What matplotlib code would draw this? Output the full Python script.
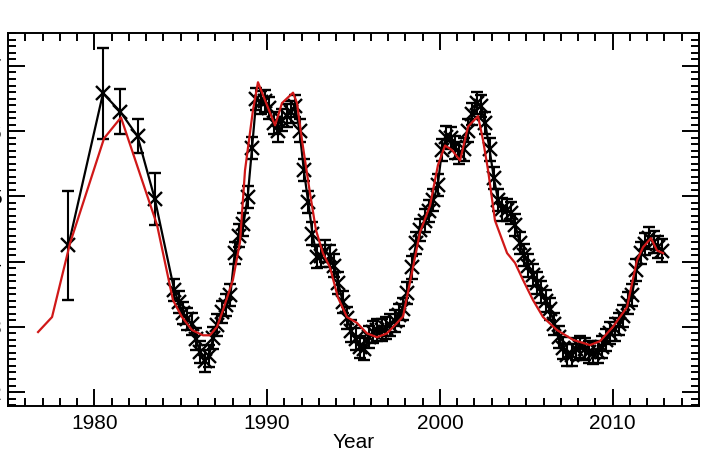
import numpy as np
import matplotlib
matplotlib.use('Agg')
import matplotlib.pyplot as plt
from matplotlib.ticker import MultipleLocator

plt.rcParams['font.family'] = ['Liberation Sans', 'DejaVu Sans']

# Early, sparse measurements (yearly)
early_year = [1978.5, 1980.5, 1981.5, 1982.5, 1983.5]
early_val = [4.25, 6.58, 6.30, 5.92, 4.96]
early_err = [0.84, 0.70, 0.35, 0.26, 0.40]

# Dense measurements, quarterly from 1984.625
dense_start = 1984.625
dense_val = [
    3.56, 3.38, 3.21, 3.12, 3.04, 2.81, 2.61, 2.47, 2.55, 2.83,
    3.03, 3.23, 3.33, 3.49, 4.13, 4.40, 4.57, 4.99, 5.74, 6.49,
    6.44, 6.46, 6.36, 6.13, 6.00, 6.17, 6.24, 6.29, 6.38, 6.01,
    5.40, 4.92, 4.43, 4.07, 4.08, 4.16, 4.08, 3.94, 3.67, 3.38,
    3.13, 2.93, 2.81, 2.69, 2.66, 2.84, 2.92, 2.95, 2.95, 2.98,
    3.03, 3.09, 3.18, 3.27, 3.52, 3.91, 4.28, 4.48, 4.63, 4.77,
    4.94, 5.17, 5.71, 5.91, 5.89, 5.75, 5.66, 5.72, 6.01, 6.26,
    6.43, 6.38, 6.12, 5.72, 5.28, 4.94, 4.80, 4.79, 4.74, 4.56,
    4.28, 4.10, 3.94, 3.79, 3.67, 3.53, 3.39, 3.27, 3.04, 2.84,
    2.67, 2.57, 2.57, 2.66, 2.69, 2.66, 2.61, 2.60, 2.61, 2.69,
    2.80, 2.90, 2.96, 3.04, 3.16, 3.36, 3.49, 3.87, 4.13, 4.27,
    4.36, 4.30, 4.22, 4.17,
]
dense_err = 0.17

# Model curve
model_year = [
    1976.74, 1977.55, 1978.59, 1980.56, 1981.54, 1983.63, 1984.55, 1985.07,
    1985.65, 1986.29, 1986.69, 1987.10, 1987.45, 1988.02, 1988.43, 1988.72,
    1989.18, 1989.47, 1989.99, 1990.46, 1990.86, 1991.50, 1991.73, 1992.02,
    1992.48, 1992.83, 1993.23, 1993.64, 1994.10, 1994.62, 1995.20, 1995.78,
    1996.36, 1996.94, 1997.52, 1997.87, 1998.39, 1998.85, 1999.43, 1999.89,
    2000.30, 2000.70, 2001.17, 2001.63, 2002.21, 2002.50, 2002.79, 2003.19,
    2003.89, 2004.35, 2004.81, 2005.39, 2005.97, 2006.78, 2007.71, 2008.69,
    2009.27, 2010.02, 2010.83, 2011.41, 2011.76, 2012.22, 2012.57, 2012.92,
]
model_val = [
    2.92, 3.15, 4.28, 5.89, 6.21, 4.56, 3.41, 3.15,
    2.95, 2.87, 2.87, 3.00, 3.26, 3.72, 4.30, 5.40,
    6.32, 6.75, 6.40, 6.09, 6.43, 6.59, 6.43, 5.86,
    5.05, 4.48, 4.13, 3.91, 3.45, 3.15, 3.06, 2.90,
    2.84, 2.90, 3.06, 3.16, 3.84, 4.45, 4.86, 5.48,
    5.78, 5.71, 5.55, 6.07, 6.23, 5.86, 5.40, 4.63,
    4.13, 3.98, 3.72, 3.41, 3.15, 2.95, 2.80, 2.72,
    2.78, 3.00, 3.30, 4.02, 4.22, 4.36, 4.17, 4.13,
]

dense_year = dense_start + 0.25 * np.arange(len(dense_val))
year = np.concatenate([early_year, dense_year])
val = np.concatenate([early_val, dense_val])
err = np.concatenate([early_err, np.full(len(dense_val), dense_err)])

fig = plt.figure(figsize=(7.18, 4.68), dpi=100)
ax = fig.add_axes([8 / 718, 62 / 468, 691 / 718, 373 / 468])

ax.errorbar(year, val, yerr=err, fmt='-x', color='black', lw=1.6,
            ms=9.5, mew=1.7, elinewidth=1.5, capsize=4.3, capthick=1.5, zorder=2)
ax.plot(model_year, model_val, color='#d01818', lw=1.6, zorder=3)

ax.set_xlim(1975, 2015)
ax.set_ylim(1.786, 7.505)
ax.xaxis.set_major_locator(MultipleLocator(10))
ax.xaxis.set_minor_locator(MultipleLocator(1))
ax.yaxis.set_major_locator(MultipleLocator(1))
ax.yaxis.set_minor_locator(MultipleLocator(0.1))

ax.tick_params(which='both', direction='in', top=True, right=True, width=1.4,
               labelsize=15)
ax.tick_params(which='major', length=12)
ax.tick_params(which='minor', length=6)
ax.tick_params(axis='x', pad=6)
ax.tick_params(axis='y', pad=4.8)
for s in ax.spines.values():
    s.set_linewidth(1.4)

ax.set_xlabel('Year', fontsize=15, labelpad=0)

fig.savefig('out.png', dpi=100)
